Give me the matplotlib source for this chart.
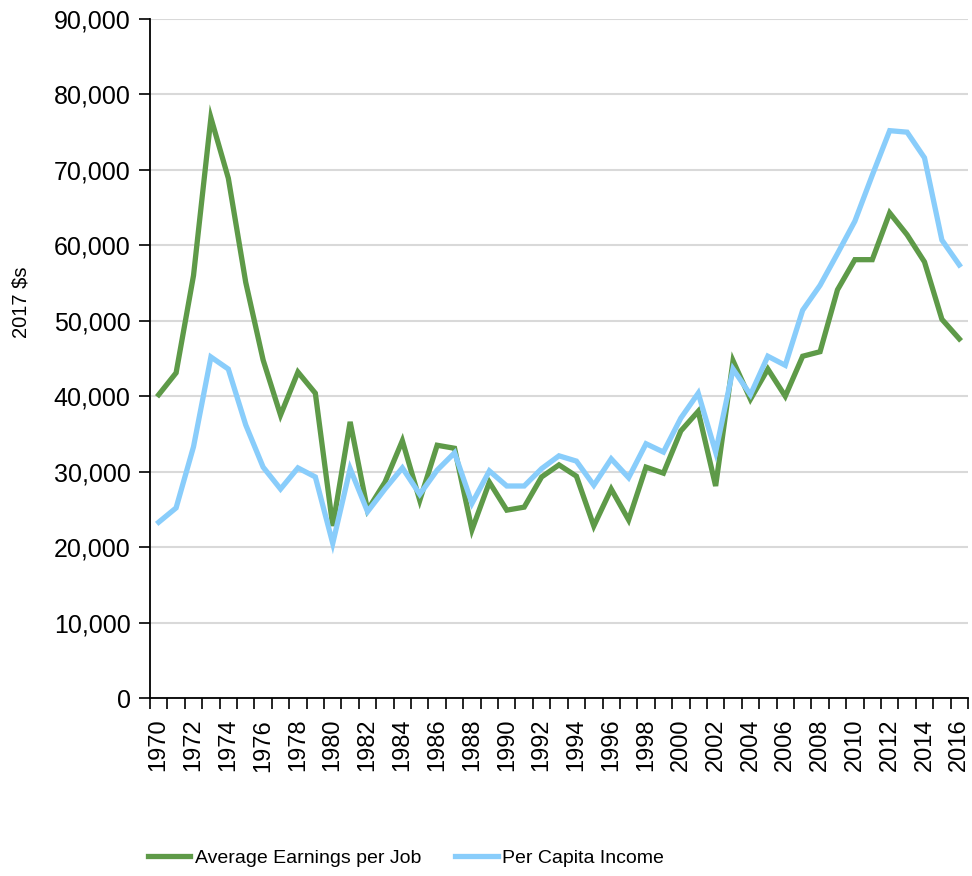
import matplotlib
matplotlib.use("Agg")
from matplotlib import pyplot as plt
from matplotlib.ticker import FuncFormatter

years = list(range(1970, 2017))

avg_earnings = [40200, 43100, 56000, 76900, 68900, 55100, 44800, 37500, 43200, 40400,
                22800, 36600, 24900, 28600, 34100, 26200, 33500, 33100, 22300, 28600,
                24900, 25300, 29300, 30900, 29400, 22800, 27700, 23600, 30600, 29800,
                35400, 38000, 28100, 44700, 39600, 43600, 40000, 45300, 45900, 54100,
                58100, 58100, 64300, 61400, 57800, 50200, 47600]

per_capita = [23300, 25200, 33300, 45200, 43600, 36200, 30600, 27700, 30500, 29300,
              20500, 30400, 24700, 27700, 30500, 27000, 30200, 32500, 25800, 30100,
              28100, 28100, 30400, 32100, 31400, 28200, 31700, 29200, 33700, 32600,
              37100, 40400, 32600, 43600, 40200, 45300, 44100, 51400, 54700, 58900,
              63200, 69300, 75200, 75000, 71600, 60700, 57400]

plt.rcParams['font.family'] = ['Liberation Sans', 'DejaVu Sans']

fig = plt.figure(figsize=(9.72, 8.76), dpi=100)
ax = fig.add_axes([150 / 972, 1 - 698 / 876, 818 / 972, (698 - 19) / 876])

x = list(range(len(years)))
ax.plot(x, avg_earnings, color='#5e9a48', lw=3.8, label='Average Earnings per Job',
        solid_joinstyle='miter')
ax.plot(x, per_capita, color='#89cdfb', lw=3.8, label='Per Capita Income',
        solid_joinstyle='miter')

ax.set_ylim(0, 90000)
ax.set_yticks(range(0, 90001, 10000))
ax.yaxis.set_major_formatter(FuncFormatter(lambda v, p: f'{int(v):,}'))
ax.set_xlim(-0.5, len(years) - 0.5)

# labels every other year, ticks on category boundaries
ax.set_xticks(x[::2])
ax.set_xticklabels([str(y) for y in years[::2]], rotation=90)
ax.set_xticks([i - 0.5 for i in range(len(years) + 1)], minor=True)
ax.tick_params(axis='x', which='major', length=0, pad=15, labelsize=17)
ax.tick_params(axis='x', which='minor', length=8, width=1.2, direction='out')
ax.tick_params(axis='y', length=8, width=1.2, pad=6, labelsize=18)

ax.grid(axis='y', color='#d9d9d9', lw=1.5)
ax.set_axisbelow(True)
for s in ['top', 'right']:
    ax.spines[s].set_visible(False)
ax.spines['left'].set_linewidth(1.3)
ax.spines['bottom'].set_linewidth(1.3)

fig.text(21 / 972, 1 - 302 / 876, '2017 $s', rotation=90, ha='center', va='center',
         fontsize=14.5)

fig.legend(loc='center', bbox_to_anchor=(406 / 972, 1 - 858 / 876), ncol=2,
           frameon=False, fontsize=14, handlelength=2.2, handletextpad=0.25,
           columnspacing=1.7)

fig.savefig('out.png', dpi=100)
